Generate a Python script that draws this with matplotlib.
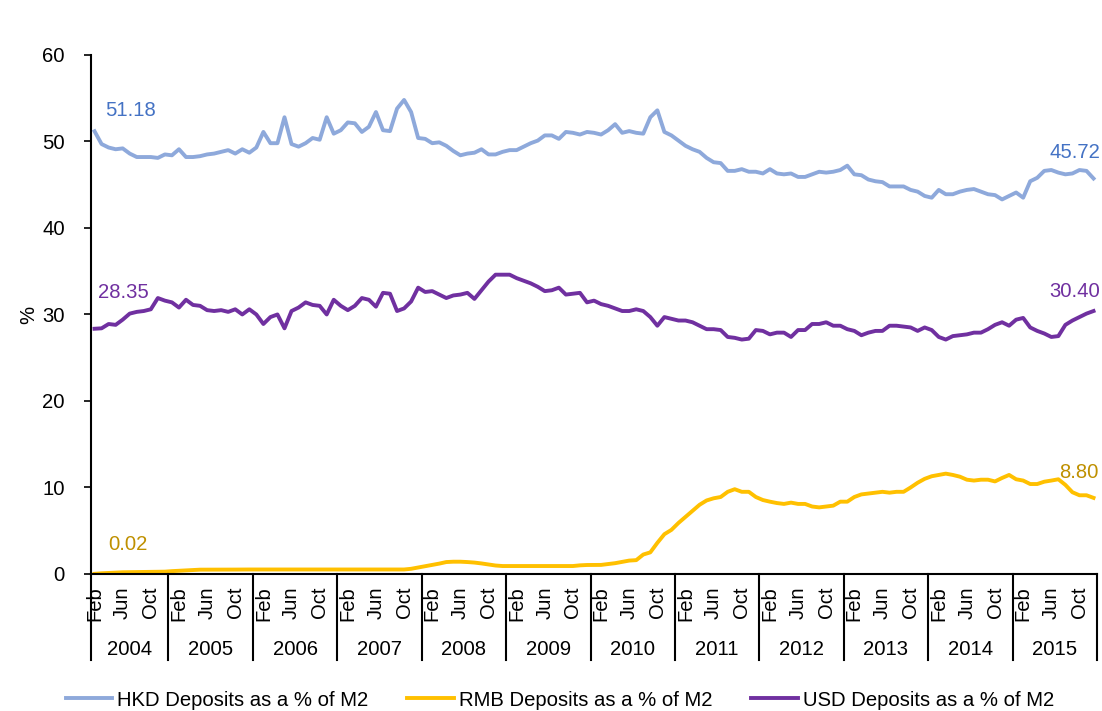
import numpy as np
import matplotlib
matplotlib.use("Agg")
import matplotlib.pyplot as plt
from matplotlib.lines import Line2D

plt.rcParams['font.family'] = ['Liberation Sans', 'DejaVu Sans']

# monthly data, Feb 2004 .. Dec 2015
years = list(range(2004, 2016))
months = ['Jan', 'Feb', 'Mar', 'Apr', 'May', 'Jun', 'Jul', 'Aug', 'Sep', 'Oct', 'Nov', 'Dec']
shown_months = ['Feb', 'Jun', 'Oct']

hkd = [51.18, 49.7, 49.3, 49.1, 49.2, 48.6, 48.2, 48.2, 48.2, 48.1, 48.5,          # 2004
       48.4, 49.1, 48.2, 48.2, 48.3, 48.5, 48.6, 48.8, 49.0, 48.6, 49.1, 48.7,   # 2005
       49.3, 51.1, 49.8, 49.8, 52.8, 49.7, 49.4, 49.8, 50.4, 50.2, 52.8, 50.9,   # 2006
       51.3, 52.2, 52.1, 51.1, 51.7, 53.4, 51.3, 51.2, 53.8, 54.8, 53.4, 50.4,   # 2007
       50.3, 49.8, 49.9, 49.5, 48.9, 48.4, 48.6, 48.7, 49.1, 48.5, 48.5, 48.8,   # 2008
       49.0, 49.0, 49.4, 49.8, 50.1, 50.7, 50.7, 50.3, 51.1, 51.0, 50.8, 51.1,   # 2009
       51.0, 50.8, 51.3, 52.0, 51.0, 51.2, 51.0, 50.9, 52.8, 53.6, 51.1, 50.7,   # 2010
       50.1, 49.5, 49.1, 48.8, 48.1, 47.6, 47.5, 46.6, 46.6, 46.8, 46.5, 46.5,   # 2011
       46.3, 46.8, 46.3, 46.2, 46.3, 45.9, 45.9, 46.2, 46.5, 46.4, 46.5, 46.7,   # 2012
       47.2, 46.2, 46.1, 45.6, 45.4, 45.3, 44.8, 44.8, 44.8, 44.4, 44.2, 43.7,   # 2013
       43.5, 44.4, 43.9, 43.9, 44.2, 44.4, 44.5, 44.2, 43.9, 43.8, 43.3, 43.7,   # 2014
       44.1, 43.5, 45.4, 45.8, 46.6, 46.7, 46.4, 46.2, 46.3, 46.7, 46.6, 45.72]  # 2015

rmb = [0.02, 0.08, 0.12, 0.17, 0.20, 0.21, 0.22, 0.23, 0.24, 0.25, 0.27,
       0.33, 0.37, 0.40, 0.45, 0.50, 0.50, 0.50, 0.51, 0.51, 0.51, 0.52, 0.52,
       0.52, 0.52, 0.52, 0.52, 0.52, 0.52, 0.52, 0.52, 0.52, 0.52, 0.52, 0.52,
       0.52, 0.52, 0.52, 0.52, 0.52, 0.52, 0.52, 0.52, 0.52, 0.52, 0.60, 0.75,
       0.90, 1.05, 1.20, 1.38, 1.42, 1.42, 1.38, 1.32, 1.22, 1.10, 0.98, 0.92,
       0.92, 0.92, 0.92, 0.92, 0.92, 0.92, 0.92, 0.92, 0.92, 0.92, 1.00,
       1.04, 1.04, 1.05, 1.15, 1.25, 1.40, 1.55, 1.60, 2.25, 2.50, 3.60, 4.60,
       5.10, 5.90, 6.60, 7.30, 8.00, 8.50, 8.75, 8.90, 9.50, 9.80, 9.50, 9.50,
       8.90, 8.55, 8.36, 8.20, 8.10, 8.25, 8.10, 8.10, 7.80, 7.70, 7.80, 7.90,
       8.36, 8.36, 8.90, 9.20, 9.30, 9.40, 9.50, 9.40, 9.50, 9.50, 10.0, 10.55,
       11.0, 11.3, 11.45, 11.6, 11.45, 11.25, 10.9, 10.8, 10.9, 10.9, 10.7, 11.1,
       11.45, 10.95, 10.8, 10.4, 10.4, 10.67, 10.8, 10.95, 10.3, 9.45, 9.1, 9.1, 8.80]

usd = [28.35, 28.4, 28.9, 28.8, 29.4, 30.1, 30.3, 30.4, 30.6, 31.9, 31.6,
       31.4, 30.8, 31.7, 31.1, 31.0, 30.5, 30.4, 30.5, 30.3, 30.6, 30.0, 30.6,
       30.0, 28.9, 29.7, 30.0, 28.4, 30.4, 30.8, 31.4, 31.1, 31.0, 30.0, 31.7,
       31.0, 30.5, 31.0, 31.9, 31.7, 30.9, 32.5, 32.4, 30.4, 30.7, 31.5, 33.1,
       32.6, 32.7, 32.3, 31.9, 32.2, 32.3, 32.5, 31.8, 32.8, 33.8, 34.6, 34.6,
       34.6, 34.2, 33.9, 33.6, 33.2, 32.7, 32.8, 33.1, 32.3, 32.4, 32.5, 31.4,
       31.6, 31.2, 31.0, 30.7, 30.4, 30.4, 30.6, 30.4, 29.7, 28.7, 29.7, 29.5,
       29.3, 29.3, 29.1, 28.7, 28.3, 28.3, 28.2, 27.4, 27.3, 27.1, 27.2, 28.2,
       28.1, 27.7, 27.9, 27.9, 27.4, 28.2, 28.2, 28.9, 28.9, 29.1, 28.7, 28.7,
       28.3, 28.1, 27.6, 27.9, 28.1, 28.1, 28.7, 28.7, 28.6, 28.5, 28.1, 28.5,
       28.2, 27.4, 27.1, 27.5, 27.6, 27.7, 27.9, 27.9, 28.3, 28.8, 29.1, 28.7,
       29.4, 29.6, 28.5, 28.1, 27.8, 27.4, 27.5, 28.8, 29.3, 29.7, 30.1, 30.40]

labels = ['HKD Deposits as a % of M2', 'RMB Deposits as a % of M2', 'USD Deposits as a % of M2']
line_colors = ['#8EA9DB', '#FFC000', '#7030A0']
text_colors = ['#4472C4', '#BF9000', '#7030A0']

fs = 14.6

# category axis: one slot per month
dates = [(y, m) for y in years for m in range(12)][1:]
n = len(dates)
x = np.arange(n)

fig = plt.figure(figsize=(11.02, 7.11), dpi=100)
ax = fig.add_axes([0.0826, 0.1927, 0.9129, 0.73])

for series, lab, c in zip([hkd, rmb, usd], labels, line_colors):
    ax.plot(x, series, color=c, lw=2.8, label=lab, solid_joinstyle='round')

ax.set_xlim(-0.5, n - 0.5)
ax.set_ylim(0, 60)
ax.set_yticks(range(0, 61, 10))
ax.tick_params(axis='y', labelsize=fs, length=5, width=1.2, pad=14)
ax.set_ylabel('%', fontsize=fs, labelpad=3)

tick_pos = [i for i, (y, m) in enumerate(dates) if months[m] in shown_months]
ax.set_xticks(tick_pos)
ax.set_xticklabels([months[dates[i][1]] for i in tick_pos], rotation=90, fontsize=fs)
ax.tick_params(axis='x', length=0, pad=9)

for s in ['top', 'right']:
    ax.spines[s].set_visible(False)
for s in ['left', 'bottom']:
    ax.spines[s].set_linewidth(1.5)

# year groups below the month labels
trans = ax.get_xaxis_transform()
bounds = [-0.5] + [i - 0.5 for i, (y, m) in enumerate(dates) if m == 0] + [n - 0.5]
for b in bounds:
    ax.add_line(Line2D([b, b], [0, -0.166], transform=trans, color='black', lw=1.5, clip_on=False))
for y0, a, b in zip(years, bounds[:-1], bounds[1:]):
    ax.text((a + b) / 2, -0.145, str(y0), transform=trans, ha='center', va='center', fontsize=fs)

# first / last value labels
offsets = {'hkd': [(36, 21), (-19, 26)], 'rmb': [(33, 29), (-15, 25)], 'usd': [(29, 36), (-19, 20)]}
for key, series, c in zip(['hkd', 'rmb', 'usd'], [hkd, rmb, usd], text_colors):
    for idx, off in zip([0, n - 1], offsets[key]):
        ax.annotate(f'{series[idx]:.2f}', (x[idx], series[idx]), xytext=off,
                    textcoords='offset pixels', ha='center', va='center', color=c, fontsize=fs)

fig.legend(loc='center', bbox_to_anchor=(0.508, 1 - 700 / 711), ncol=3, frameon=False,
           fontsize=fs, handlelength=2.3, handletextpad=0.25, columnspacing=1.9)

fig.savefig('out.png', dpi=100)
